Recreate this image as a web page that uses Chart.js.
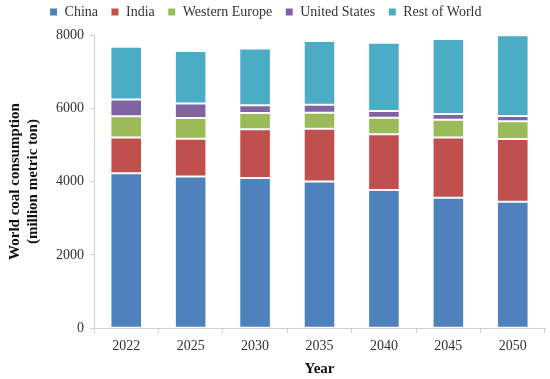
<!DOCTYPE html>
<html>
<head>
<meta charset="utf-8">
<script src="https://cdn.jsdelivr.net/npm/chart.js@4.4.1/dist/chart.umd.min.js"></script>
<style>
  html, body { margin: 0; padding: 0; background: #fff; }
  #wrap { width: 550px; height: 379px; }
</style>
</head>
<body>
<div id="wrap"><canvas id="myChart"></canvas></div>
<script>
// categories and series (million metric ton)
const years = ['2022', '2025', '2030', '2035', '2040', '2045', '2050'];
const china = [4230, 4140, 4100, 4000, 3770, 3560, 3450];
const india = [970, 1030, 1325, 1440, 1525, 1645, 1710];
const westernEurope = [580, 565, 450, 440, 445, 485, 485];
const unitedStates = [460, 395, 210, 220, 185, 155, 145];
const restOfWorld = [1440, 1435, 1550, 1735, 1865, 2045, 2200];
const yTicks = [0, 2000, 4000, 6000, 8000];

const serif = 'Liberation Serif';
Chart.defaults.font.family = serif;

function series(label, values, color) {
  return {
    label: label,
    data: values,
    backgroundColor: color,
    borderColor: '#ffffff',
    borderWidth: 1,
    borderSkipped: false,
    barPercentage: 0.49,
    categoryPercentage: 1.0,
  };
}

const data = {
  labels: years,
  datasets: [
    series('China', china, '#4F81BD'),
    series('India', india, '#C0504D'),
    series('Western Europe', westernEurope, '#9BBB59'),
    series('United States', unitedStates, '#8064A2'),
    series('Rest of World', restOfWorld, '#4BACC6'),
  ]
};

// extra room under the legend, and nudge it a bit to the left
const legendTweak = {
  id: 'legendTweak',
  beforeInit(chart) {
    const fit = chart.legend.fit;
    chart.legend.fit = function() {
      fit.bind(chart.legend)();
      this.height += 6;
    };
  },
  afterLayout(chart) {
    chart.legend.left -= 10;
    chart.legend.right -= 10;
  },
};

const config = {
  type: 'bar',
  data: data,
  plugins: [legendTweak],
  options: {
    responsive: true,
    maintainAspectRatio: false,
    animation: false,
    layout: { padding: { left: 6, right: 5, top: -8, bottom: 1 } },
    plugins: {
      legend: {
        position: 'top',
        labels: {
          font: { family: serif, size: 14 },
          color: '#333',
          boxWidth: 8,
          boxHeight: 8,
          padding: 13,
        },
      },
      tooltip: { enabled: false },
    },
    scales: {
      x: {
        stacked: true,
        grid: {
          offset: true,
          drawOnChartArea: false,
          drawTicks: true,
          tickLength: 5,
          color: '#d0d0d0',
        },
        border: { color: '#d0d0d0' },
        ticks: { font: { family: serif, size: 14 }, color: '#333', padding: 5 },
        title: {
          display: true,
          text: 'Year',
          font: { family: serif, size: 15, weight: 'bold' },
          color: '#111',
          padding: { top: 0, bottom: 0 },
        },
      },
      y: {
        stacked: true,
        min: 0,
        max: 8000,
        afterBuildTicks: (axis) => {
          axis.ticks = yTicks.map(v => ({ value: v }));
        },
        grid: {
          drawOnChartArea: false,
          drawTicks: true,
          tickLength: 4,
          color: '#d0d0d0',
        },
        border: { color: '#d0d0d0' },
        ticks: {
          font: { family: serif, size: 14 },
          color: '#333',
          padding: 6,
          callback: (v) => String(v),
        },
        title: {
          display: true,
          text: ['World coal consumption', '(million metric ton)'],
          font: { family: serif, size: 15, weight: 'bold' },
          color: '#111',
          padding: { top: 0, bottom: 8 },
        },
      },
    },
  },
};

window.onload = function() {
  const ctx = document.getElementById('myChart');
  var chart = new Chart(ctx, config);
};
</script>
</body>
</html>
